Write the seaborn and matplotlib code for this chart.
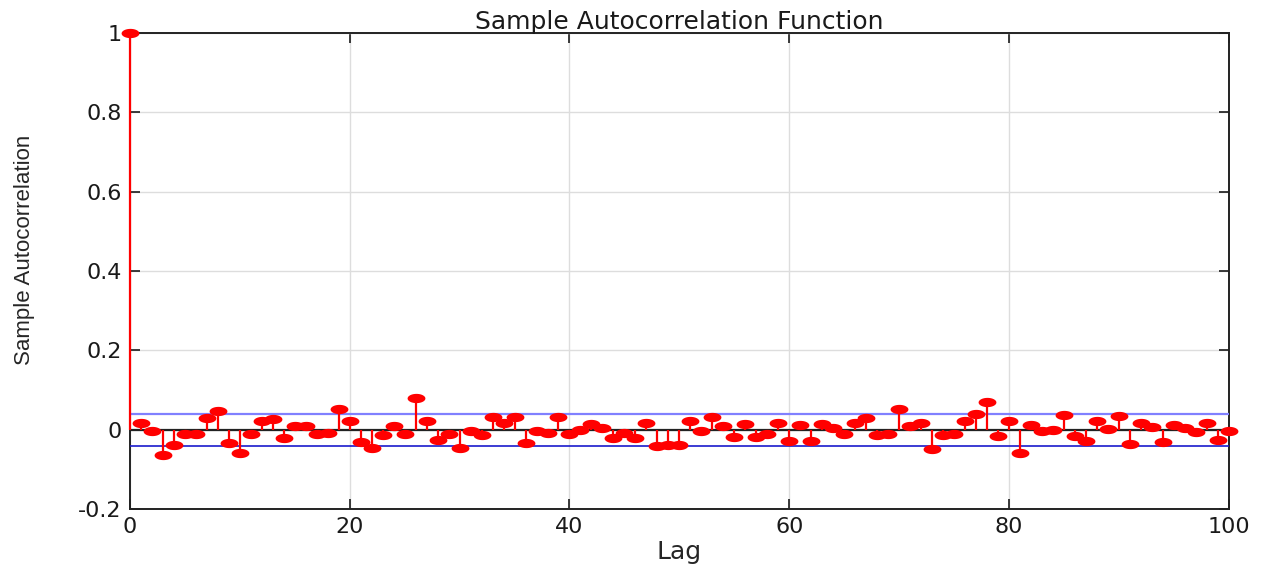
import numpy as np
import matplotlib
matplotlib.use("Agg")
import matplotlib.pyplot as plt
import seaborn as sns
import pandas as pd

# autocorrelation values, lags 0..100
lags = list(range(0, 101))
acf = [
    1.0,
    0.016, -0.003, -0.063, -0.038, -0.010, -0.010, 0.030, 0.048, -0.033, -0.058,
    -0.011, 0.023, 0.027, -0.021, 0.010, 0.010, -0.011, -0.007, 0.053, 0.021,
    -0.031, -0.047, -0.012, 0.010, -0.010, 0.079, 0.023, -0.026, -0.010, -0.045,
    -0.002, -0.014, 0.031, 0.018, 0.031, -0.033, -0.002, -0.007, 0.031, -0.010,
    0.000, 0.014, 0.005, -0.021, -0.007, -0.021, 0.016, -0.040, -0.038, -0.038,
    0.023, -0.002, 0.032, 0.010, -0.019, 0.014, -0.019, -0.010, 0.016, -0.028,
    0.011, -0.028, 0.014, 0.005, -0.010, 0.016, 0.030, -0.014, -0.010, 0.053,
    0.010, 0.018, -0.049, -0.014, -0.010, 0.021, 0.040, 0.069, -0.016, 0.021,
    -0.058, 0.011, -0.002, 0.000, 0.037, -0.016, -0.028, 0.021, 0.002, 0.035,
    -0.035, 0.018, 0.007, -0.031, 0.011, 0.005, -0.005, 0.018, -0.026, -0.002,
]
upper_bound = 0.04
lower_bound = -0.04

df = pd.DataFrame({"Lag": lags, "ACF": acf})

sns.set_style("ticks")
plt.rcParams["font.family"] = ["DejaVu Sans"]
plt.rcParams["text.color"] = "#1a1a1a"

fig = plt.figure(figsize=(12.74, 5.72), dpi=100)
ax = fig.add_axes([0.102, 0.110, 0.8625, 0.832])

# stems
ax.vlines(df["Lag"], 0, df["ACF"], color="red", linewidth=1.6, zorder=5,
          clip_on=False)

# wide, flat markers like the stretched reference
t = np.linspace(0, 2 * np.pi, 40)
ellipse = list(zip(np.cos(t), 0.52 * np.sin(t)))
sns.scatterplot(data=df, x="Lag", y="ACF", ax=ax, marker=ellipse, s=165,
                color="red", edgecolor="red", linewidth=0, zorder=6,
                legend=False, clip_on=False)

# zero line and confidence bounds
ax.axhline(0, color="#222222", linewidth=1.6, zorder=3)
ax.axhline(upper_bound, color="#8080ff", linewidth=1.6, zorder=3)
ax.axhline(lower_bound, color="#1a1acc", linewidth=1.2, zorder=3)

ax.set_xlim(0, 100)
ax.set_ylim(-0.2, 1.0)
ax.set_xticks([0, 20, 40, 60, 80, 100])
ax.set_yticks([-0.2, 0, 0.2, 0.4, 0.6, 0.8, 1.0])
ax.set_yticklabels(["-0.2", "0", "0.2", "0.4", "0.6", "0.8", "1"])
ax.grid(True, color="#dddddd", linewidth=1.0)
ax.set_axisbelow(True)

ax.tick_params(direction="in", top=True, right=True, length=7, width=1.2,
               labelsize=16, colors="#1a1a1a", pad=6)
for side in ax.spines.values():
    side.set_color("#222222")
    side.set_linewidth(1.4)

ax.set_title("Sample Autocorrelation Function", fontsize=18, pad=3)
ax.set_xlabel("Lag", fontsize=18, labelpad=2)
ax.set_ylabel("Sample Autocorrelation", fontsize=16,
              family=["Liberation Sans", "DejaVu Sans"])
ax.yaxis.set_label_coords(-0.086, 0.545)

fig.savefig("out.png", dpi=100)
